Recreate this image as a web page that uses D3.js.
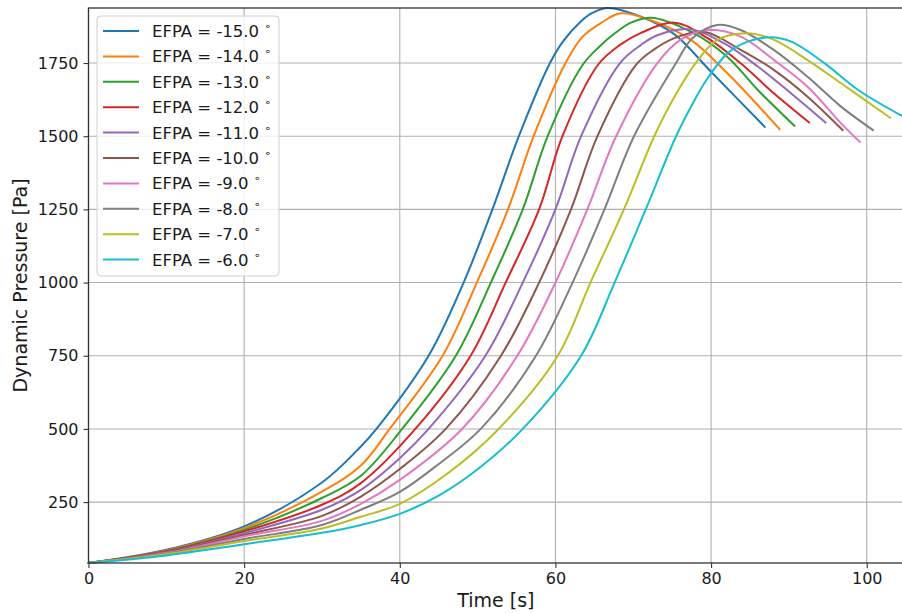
<!DOCTYPE html>
<html>
<head>
<meta charset="utf-8">
<script src="https://cdn.jsdelivr.net/npm/d3@7"></script>
<style>
  body { margin: 0; background: #fff; }
  svg { display: block; font-family: "DejaVu Sans", sans-serif; }
  .tick text { font-size: 16px; fill: #1a1a1a; }
  .axlabel { font-size: 19px; fill: #1a1a1a; }
  .leg { font-size: 16.5px; fill: #1a1a1a; }
</style>
</head>
<body>
<div id="chart"></div>
<script>
// entry flight path angles, one curve each
let efpa = [-15, -14, -13, -12, -11, -10, -9, -8, -7, -6];
let colors = ["#1f77b4", "#ff7f0e", "#2ca02c", "#d62728", "#9467bd",
              "#8c564b", "#e377c2", "#7f7f7f", "#bcbd22", "#17becf"];

// [time s, dynamic pressure Pa]
let q15 = [[0,42],[10,87],[20,167],[30,317],[35,440],[37,500],[43.7,750],[48.2,1000],[51.9,1250],[55.3,1500],[59.3,1750],[61,1825],[63.3,1893],[64.8,1922],[66.7,1938],[71,1908],[75.3,1848],[80,1720],[86.9,1532]];
let q14 = [[0,42],[10,85],[20,161],[30,286],[35,375],[38.7,500],[45.5,750],[49.9,1000],[53.9,1250],[57.2,1500],[61.3,1750],[63.5,1840],[65.8,1886],[68.4,1920],[72.2,1897],[77.4,1829],[82.1,1715],[88.8,1524]];
let q13 = [[0,42],[10,83],[20,155],[30,264],[35,340],[40.3,500],[47.2,750],[51.7,1000],[55.8,1250],[59,1500],[63.4,1740],[65.6,1805],[67.8,1855],[69.7,1888],[72.3,1905],[77.4,1857],[82.1,1771],[86,1658],[90.7,1536]];
let q12 = [[0,42],[10,82],[20,150],[30,241],[35,315],[42,500],[49.1,750],[53.6,1000],[57.9,1250],[60.9,1500],[65.5,1745],[68.3,1812],[71,1853],[75.3,1888],[79.6,1834],[83.8,1749],[88.1,1646],[92.6,1547]];
let q11 = [[0,42],[10,80],[20,144],[30,224],[35,292],[40,400],[43.7,500],[51,750],[55.8,1000],[60,1250],[63.3,1500],[68.3,1750],[71,1812],[73.1,1845],[77.4,1865],[81.7,1817],[86,1738],[90.3,1646],[94.7,1547]];
let q10 = [[0,42],[10,78],[20,138],[30,203],[35,269],[40,363],[45.9,500],[53,750],[57.9,1000],[62,1250],[65.4,1500],[70.4,1745],[72.6,1795],[75.3,1835],[79.1,1857],[83.8,1795],[88.1,1726],[92.4,1635],[96.9,1521]];
let q9 = [[0,42],[10,76],[20,133],[30,186],[35,244],[40,326],[48,500],[55.1,750],[60,1000],[64.1,1250],[67.8,1500],[73.1,1750],[76.1,1830],[79.6,1863],[83.8,1840],[88.1,1760],[92.4,1669],[96.7,1544],[99.1,1481]];
let q8 = [[0,42],[10,74],[20,124],[30,172],[35,224],[40,285],[45,380],[50.4,500],[57.5,750],[62.2,1000],[66.3,1250],[70.1,1500],[75.5,1750],[77.6,1835],[80.8,1880],[83.8,1863],[88.1,1794],[92.4,1703],[96.7,1601],[100.8,1521]];
let q7 = [[0,42],[10,72],[20,117],[30,160],[35,200],[40,244],[46,345],[52.7,500],[60.3,750],[64.5,1000],[68.8,1250],[72.7,1500],[75.3,1635],[78.3,1760],[80.8,1829],[84.7,1852],[88.1,1829],[92.4,1760],[96.7,1681],[103,1563]];
let q6 = [[0,42],[10,68],[20,106],[30,145],[35,172],[40,210],[45,272],[50,362],[55.8,500],[63.3,750],[67.6,1000],[71.6,1250],[75.5,1500],[77.4,1600],[79.4,1692],[82.1,1783],[84.7,1823],[87.7,1838],[90.3,1823],[94.6,1749],[98.9,1658],[104.7,1567]];

let series = [q15, q14, q13, q12, q11, q10, q9, q8, q7, q6];
let yTicks = [250, 500, 750, 1000, 1250, 1500, 1750];
let xTicks = [0, 20, 40, 60, 80, 100];

let w = 902, h = 613;
let margin = {top: 8, right: -1.3, bottom: 50, left: 88.5};
let iw = w - margin.left - margin.right;
let ih = h - margin.top - margin.bottom;

let all = series.flat();
let x = d3.scaleLinear().domain(d3.extent(all, d => d[0])).range([0, iw]);
let y = d3.scaleLinear().domain(d3.extent(all, d => d[1])).range([ih, 0]);

let svg = d3.select("#chart").append("svg")
    .attr("width", w)
    .attr("height", h);
let g = svg.append("g")
    .attr("transform", `translate(${margin.left},${margin.top})`);

// grid
g.append("g")
    .selectAll("line")
    .data(xTicks)
    .enter()
    .append("line")
    .attr("x1", d => x(d)).attr("x2", d => x(d))
    .attr("y1", 0).attr("y2", ih)
    .attr("stroke", "#b0b0b0")
    .attr("stroke-width", 1.1);
g.append("g")
    .selectAll("line")
    .data(yTicks)
    .enter()
    .append("line")
    .attr("x1", 0).attr("x2", iw)
    .attr("y1", d => y(d)).attr("y2", d => y(d))
    .attr("stroke", "#b0b0b0")
    .attr("stroke-width", 1.1);

// curves
let line = d3.line()
    .x(d => x(d[0]))
    .y(d => y(d[1]))
    .curve(d3.curveCatmullRom.alpha(0.5));
g.append("g")
    .selectAll("path")
    .data(series)
    .enter()
    .append("path")
    .attr("d", line)
    .attr("fill", "none")
    .attr("stroke", (d, i) => colors[i])
    .attr("stroke-width", 2)
    .attr("stroke-linejoin", "round")
    .attr("stroke-linecap", "square");

// axes
let xAxis = g.append("g")
    .attr("transform", `translate(0,${ih})`)
    .call(d3.axisBottom(x).tickValues(xTicks).tickSize(5).tickPadding(5).tickFormat(d3.format("d")));
let yAxis = g.append("g")
    .call(d3.axisLeft(y).tickValues(yTicks).tickSize(5).tickPadding(5).tickFormat(d3.format("d")));
[xAxis, yAxis].forEach(a => {
    a.selectAll(".domain").remove();
    a.selectAll(".tick line").attr("stroke", "#333").attr("stroke-width", 1.1);
    a.selectAll("text").attr("font-family", "DejaVu Sans");
});

// spines
g.append("rect")
    .attr("x", 0).attr("y", 0)
    .attr("width", iw).attr("height", ih)
    .attr("fill", "none")
    .attr("stroke", "#333")
    .attr("stroke-width", 1.3);

svg.append("text")
    .attr("class", "axlabel")
    .attr("text-anchor", "middle")
    .attr("x", margin.left + iw / 2)
    .attr("y", 607)
    .text("Time [s]");
svg.append("text")
    .attr("class", "axlabel")
    .attr("text-anchor", "middle")
    .attr("transform", `translate(27,${margin.top + ih / 2}) rotate(-90)`)
    .text("Dynamic Pressure [Pa]");

// legend
let legend = svg.append("g").attr("transform", "translate(97,16)");
legend.append("rect")
    .attr("width", 182).attr("height", 260)
    .attr("rx", 4)
    .attr("fill", "white")
    .attr("fill-opacity", 0.8)
    .attr("stroke", "#d0d0d0");
let rows = legend.selectAll(".row")
    .data(efpa)
    .enter()
    .append("g")
    .attr("transform", (d, i) => `translate(0,${15 + i * 25.4})`);
rows.append("line")
    .attr("x1", 6).attr("x2", 42)
    .attr("stroke", (d, i) => colors[i])
    .attr("stroke-width", 2);
let lt = rows.append("text")
    .attr("class", "leg")
    .attr("x", 55)
    .attr("y", 6);
lt.append("tspan").text(d => `EFPA = ${d.toFixed(1)}`);
lt.append("tspan")
    .attr("dx", 5)
    .attr("dy", -7)
    .attr("font-size", 11)
    .text("∘");
</script>
</body>
</html>
